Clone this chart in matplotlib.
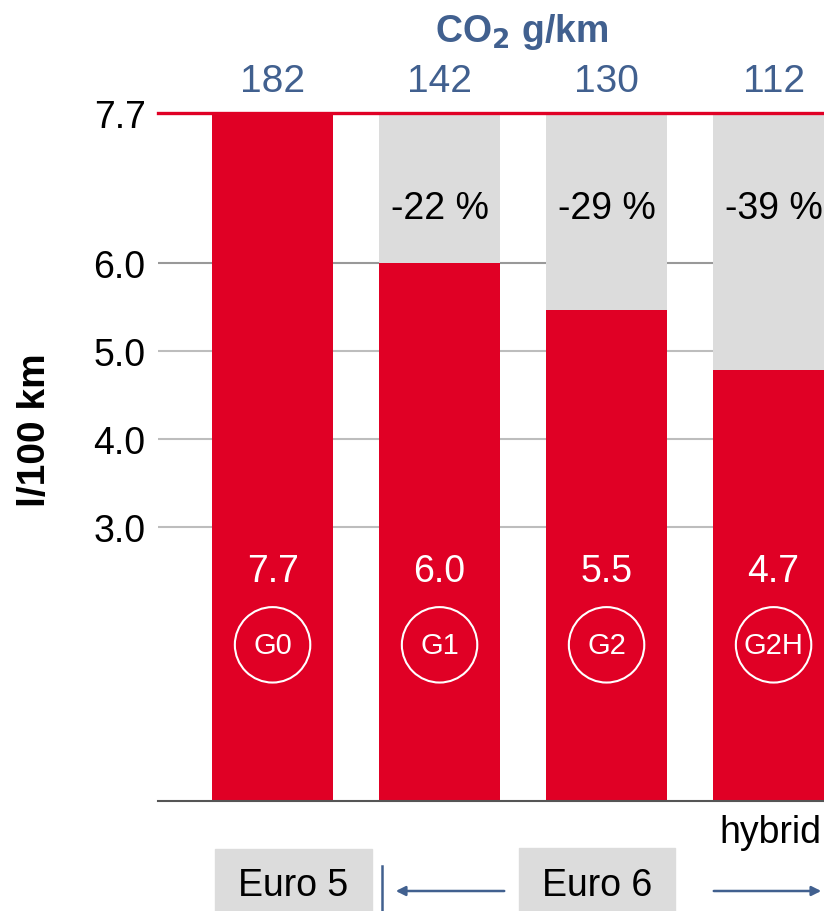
import matplotlib
matplotlib.use("Agg")
from matplotlib import pyplot as plt
from matplotlib.patches import Rectangle

# data
models = ["G0", "G1", "G2", "G2H"]
consumption = [7.7, 6.0, 5.47, 4.78]          # l/100 km, bar heights
value_labels = ["7.7", "6.0", "5.5", "4.7"]
co2 = [182, 142, 130, 112]                     # g/km
reduction = ["", "-22 %", "-29 %", "-39 %"]
baseline = 7.7
yticks = [3.0, 4.0, 5.0, 6.0, 7.7]

red = "#e00025"
grey = "#dcdcdc"
blue = "#41608f"

plt.rcParams["font.family"] = ["Liberation Sans", "DejaVu Sans"]

fig = plt.figure(figsize=(8.24, 9.12), dpi=100)
ax = fig.add_axes([158 / 824, 110 / 912, 666 / 824, 692 / 912])

ymin = -0.115
x = range(len(models))
w = 0.725

# grey "reference" bars behind the reduced ones
ax.bar([i for i in x if i > 0], [baseline - ymin] * (len(models) - 1),
       bottom=ymin, width=w, color=grey, zorder=1)
ax.bar(x, [v - ymin for v in consumption], bottom=ymin, width=w,
       color=red, zorder=2)

# gridlines
for t in [3.0, 4.0, 5.0]:
    ax.axhline(t, color="#bdbdbd", lw=1.5, zorder=0)
ax.axhline(6.0, color="#999999", lw=1.5, zorder=0)
ax.axhline(baseline, color=red, lw=2.4, zorder=3, clip_on=False)
ax.axhline(ymin, color="#555555", lw=1.5, zorder=3, clip_on=False)

ax.set_xlim(-0.686, 3.302)
ax.set_ylim(ymin, 7.75)
ax.set_yticks(yticks)
ax.set_yticklabels(["%.1f" % t for t in yticks], fontsize=27)
ax.set_xticks([])
ax.tick_params(axis="y", length=0, pad=9)
for s in ax.spines.values():
    s.set_visible(False)

for i in x:
    ax.text(i, 8.07, str(co2[i]), color=blue, fontsize=28, ha="center",
            va="center", clip_on=False)
    if reduction[i]:
        ax.text(i, 6.62, reduction[i], color="black", fontsize=27,
                ha="center", va="center", zorder=4)
    ax.text(i, 2.5, value_labels[i], color="white", fontsize=27,
            ha="center", va="center", zorder=4)
    ax.scatter([i], [1.66], s=2950, facecolors="none", edgecolors="white",
               linewidths=1.5, zorder=4)
    ax.text(i, 1.66, models[i], color="white", fontsize=21, ha="center",
            va="center", zorder=5)

# titles
fig.text(522 / 824, 1 - 32 / 912, "CO$_\\mathbf{2}$ g/km", color=blue,
         fontsize=27, fontweight="bold", ha="center", va="center")
fig.text(35 / 824, 1 - 430 / 912, "l/100 km", fontsize=28,
         fontweight="bold", rotation=90, ha="center", va="center")

# bottom annotations
fig.text(770 / 824, 1 - 833 / 912, "hybrid", fontsize=27, ha="center",
         va="center")
fig.patches.append(Rectangle((215 / 824, 0), 157 / 824, 62 / 912,
                             transform=fig.transFigure, color=grey))
fig.patches.append(Rectangle((519 / 824, 0), 156 / 824, 63 / 912,
                             transform=fig.transFigure, color=grey))
fig.text(293 / 824, 1 - 886 / 912, "Euro 5", fontsize=27, ha="center",
         va="center")
fig.text(597 / 824, 1 - 886 / 912, "Euro 6", fontsize=27, ha="center",
         va="center")
fig.lines.append(plt.Line2D([382 / 824, 382 / 824], [0, 45 / 912],
                            transform=fig.transFigure, color=blue, lw=1.8))
arrow = dict(arrowstyle="-|>", color=blue, lw=1.8, mutation_scale=14)
fig.add_artist(matplotlib.patches.FancyArrowPatch(
    (507 / 824, 20 / 912), (393 / 824, 20 / 912),
    transform=fig.transFigure, **arrow))
fig.add_artist(matplotlib.patches.FancyArrowPatch(
    (711 / 824, 20 / 912), (824 / 824, 20 / 912),
    transform=fig.transFigure, **arrow))

fig.savefig("out.png", dpi=100)
